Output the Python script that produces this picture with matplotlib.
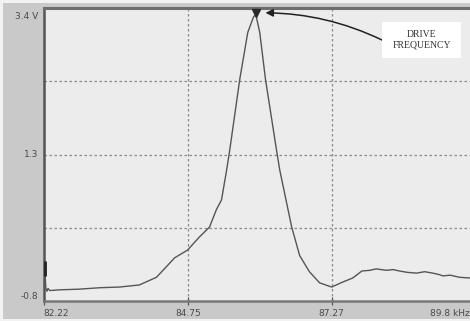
import matplotlib
matplotlib.use("Agg")
import matplotlib.pyplot as plt
from matplotlib.patches import Rectangle

# Data (frequency in kHz, amplitude in V)
freq_khz = [82.24, 82.24, 82.25, 82.26, 82.28, 82.30, 82.33, 82.50, 82.85, 83.20, 83.55,
            83.90, 84.20, 84.52, 84.745, 84.955, 85.13, 85.25, 85.34, 85.43, 85.48,
            85.66, 85.80, 85.90, 85.94, 86.01, 86.11, 86.31, 86.36, 86.48, 86.57,
            86.71, 86.88, 87.06, 87.27, 87.46, 87.64, 87.80, 87.94, 88.05, 88.23,
            88.35, 88.46, 88.60, 88.76, 88.90, 89.04, 89.15, 89.22, 89.35, 89.51,
            89.69, 89.80]
amplitude_v = [-0.22, -0.44, -0.44, -0.61, -0.66, -0.62, -0.65, -0.64, -0.63, -0.61, -0.60,
               -0.57, -0.46, -0.18, -0.07, 0.12, 0.26, 0.51, 0.65, 1.08, 1.34,
               2.38, 3.05, 3.27, 3.31, 3.05, 2.38, 1.33, 1.08, 0.61, 0.26,
               -0.15, -0.38, -0.54, -0.60, -0.53, -0.47, -0.37, -0.36, -0.34, -0.36,
               -0.35, -0.37, -0.39, -0.40, -0.38, -0.40, -0.42, -0.44, -0.43, -0.46,
               -0.47, -0.48]

peak_freq = 85.94
peak_amp = 3.33

x_ticks = [82.22, 84.75, 87.27, 89.8]
x_tick_labels = ["82.22", "84.75", "87.27", "89.8 kHz"]
y_ticks = [3.4, 1.3, -0.8]
y_tick_labels = ["3.4 V", "1.3", "-0.8"]
y_grid = [2.35, 1.3, 0.25]
x_grid = [84.75, 87.27]
annotation_text = "DRIVE\nFREQUENCY"

W, H = 470, 321
fig = plt.figure(figsize=(W / 100, H / 100), dpi=100)
fig.patch.set_facecolor("#f2f2f2")
fig.patches.append(Rectangle((3 / W, 2 / H), 1, (H - 5) / H, transform=fig.transFigure,
                             facecolor="#c9c9c9", edgecolor="none", zorder=-10))

left_px, right_px, top_px, bottom_px = 43.5, 476, 8, 301
ax = fig.add_axes([left_px / W, (H - bottom_px) / H,
                   (right_px - left_px) / W, (bottom_px - top_px) / H])
ax.set_zorder(1)
ax.set_facecolor("#ececec")
ax.set_xlim(82.22, 89.8)
ax.set_ylim(-0.8, 3.4)

for g in y_grid:
    ax.axhline(g, color="#8a8a8a", lw=0.9, ls=(0, (2, 2)), zorder=1)
for g in x_grid:
    ax.axvline(g, color="#8a8a8a", lw=0.9, ls=(0, (2, 2)), zorder=1)

ax.plot(freq_khz, amplitude_v, color="#555555", lw=1.0, zorder=3)
ax.plot(freq_khz[:2], amplitude_v[:2], color="#222222", lw=2.0, zorder=3,
        solid_capstyle="butt")
ax.plot([peak_freq], [peak_amp], marker="v", color="#2a2a2a", markersize=6, zorder=4)

ax.spines["right"].set_visible(False)
ax.spines["left"].set_color("#555555")
ax.spines["left"].set_linewidth(1.8)
ax.spines["bottom"].set_color("#777777")
ax.spines["bottom"].set_linewidth(1.8)
ax.spines["top"].set_color("#6e6e6e")
ax.spines["top"].set_linewidth(2.2)

ax.set_xticks(x_ticks[:3])
ax.set_xticklabels([])
ax.tick_params(axis="x", direction="inout", length=6, width=0.9, colors="#555555")
ax.set_yticks([])

tfs = 6.5
tcol = "#4a4a4a"
# x tick labels
ax.annotate(x_tick_labels[0], xy=(x_ticks[0], -0.8), xytext=(0, -6), textcoords="offset points",
            ha="left", va="top", fontsize=tfs, color=tcol, annotation_clip=False)
for xv, lab in zip(x_ticks[1:3], x_tick_labels[1:3]):
    ax.annotate(lab, xy=(xv, -0.8), xytext=(0, -6), textcoords="offset points",
                ha="center", va="top", fontsize=tfs, color=tcol, annotation_clip=False)
ax.annotate(x_tick_labels[3], xy=(x_ticks[3], -0.8), xytext=(-4.5, -6), textcoords="offset points",
            ha="right", va="top", fontsize=tfs, color=tcol, annotation_clip=False)

# y tick labels
ax.annotate(y_tick_labels[0], xy=(82.22, y_ticks[0]), xytext=(-4, -3), textcoords="offset points",
            ha="right", va="top", fontsize=tfs, color=tcol, annotation_clip=False)
ax.annotate(y_tick_labels[1], xy=(82.22, y_ticks[1]), xytext=(-4, 0), textcoords="offset points",
            ha="right", va="center", fontsize=tfs, color=tcol, annotation_clip=False)
ax.annotate(y_tick_labels[2], xy=(82.22, y_ticks[2]), xytext=(-4, 3), textcoords="offset points",
            ha="right", va="center", fontsize=tfs, color=tcol, annotation_clip=False)

# annotation box and arrow
box_x0, box_y0, box_x1, box_y1 = 382, 22, 461, 58
fig.patches.append(Rectangle((box_x0 / W, (H - box_y1) / H), (box_x1 - box_x0) / W,
                             (box_y1 - box_y0) / H, transform=fig.transFigure,
                             facecolor="white", edgecolor="none", zorder=5))
fig.text((box_x0 + box_x1) / 2 / W, (H - (box_y0 + box_y1) / 2) / H, annotation_text,
         ha="center", va="center", fontsize=7, family="Liberation Serif",
         color="#333333", linespacing=1.25, zorder=6)
ax.annotate("", xy=(peak_freq, peak_amp), xytext=(382, H - 40), textcoords="figure pixels",
            arrowprops=dict(arrowstyle="-|>", color="#222222", lw=1.1, mutation_scale=11,
                            connectionstyle="arc3,rad=0.12", shrinkA=0, shrinkB=7),
            zorder=6)

fig.savefig("out.png", dpi=100, facecolor=fig.get_facecolor())
